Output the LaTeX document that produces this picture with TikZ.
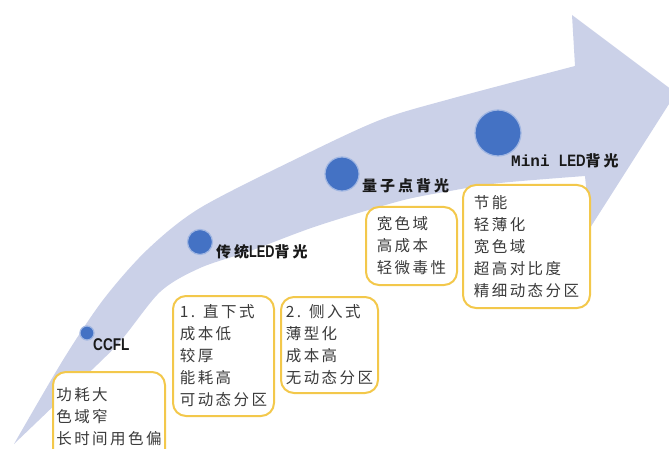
\documentclass[tikz,border=0pt]{standalone}
\usepackage{fontspec}
\setmainfont{Liberation Sans}
\newfontfamily\cjk[LetterSpace=16]{Noto Sans CJK SC}
\newfontfamily\cjklab[LetterSpace=20]{Noto Sans CJK SC}
\newfontfamily\monob{Liberation Mono}
\newfontfamily\narrowb[FakeStretch=0.8]{Liberation Sans}
\newfontfamily\narrowerb[FakeStretch=0.75]{Liberation Sans}
\definecolor{bandc}{RGB}{203,209,232}
\definecolor{dotc}{RGB}{68,114,196}
\definecolor{dotedge}{RGB}{160,182,226}
\definecolor{boxc}{RGB}{243,200,75}
\definecolor{txtc}{RGB}{58,58,58}
\definecolor{labc}{RGB}{25,25,25}
\begin{document}
\begin{tikzpicture}[x=1pt,y=-1pt,
  dot/.style={circle, fill=dotc, draw=dotedge, line width=1.2pt, inner sep=0pt},
  infobox/.style={draw=boxc, line width=2pt, rounded corners=13pt, fill=white,
    align=left, inner sep=0pt, text=txtc,
    font=\cjk\fontsize{15.5}{22}\selectfont},
  lab/.style={anchor=west, inner sep=0pt, text=labc},
  cjklabfont/.style={font=\cjklab\bfseries\fontsize{15}{15}\selectfont}
]
\useasboundingbox (0,0) rectangle (669,449);
\begin{scope}
\clip (0,0) rectangle (669,449);
\fill[bandc]
  plot[smooth] coordinates {(14,444) (63,360) (103,300) (147,250) (200,208) (300,157) (380,120) (450,99) (575,66)}
  -- (572,15) -- (676,93) -- (590,228) -- (585,176)
  -- plot[smooth] coordinates {(585,176) (500,183) (450,191) (400,201) (317,226) (250,251) (200,268) (160,292) (117,345) (62,398) (14,444)}
  -- cycle;
\end{scope}

% dots
\node[dot, minimum size=14pt] (d1) at (87,333) {};
\node[dot, minimum size=25pt] (d2) at (200,242) {};
\node[dot, minimum size=34pt] (d3) at (342,174) {};
\node[dot, minimum size=46pt] (d4) at (498,133) {};

% labels
\node[lab, font=\narrowb\bfseries\fontsize{17}{17}\selectfont] (l1) at (93,345) {CCFL};
\node[lab] (l2) at (216,252) {\cjklab\bfseries\fontsize{15}{15}\selectfont 传统\narrowerb\bfseries\fontsize{17}{17}\selectfont LED\cjklab\bfseries\fontsize{15}{15}\selectfont 背光};
\node[lab, cjklabfont] (l3) at (362,186) {量子点背光};
\node[lab] (l4) at (511,161) {\monob\bfseries\fontsize{16}{16}\selectfont Mini \narrowb\bfseries\fontsize{16.5}{16.5}\selectfont LED\cjklab\bfseries\fontsize{15}{15}\selectfont 背光};

% boxes
\begin{scope}
\clip (0,0) rectangle (669,449);
\node[infobox, minimum width=112pt, minimum height=90pt] (b1) at (109,417) {功耗大\\色域窄\\长时间用色偏};
\end{scope}
\node[infobox, minimum width=101pt, minimum height=120pt] (b2) at (223.5,356) {1. 直下式\\成本低\\较厚\\能耗高\\可动态分区};
\node[infobox, minimum width=97pt, minimum height=96pt] (b3) at (329.5,345) {2. 侧入式\\薄型化\\成本高\\无动态分区};
\node[infobox, minimum width=91pt, minimum height=78pt] (b4) at (411.5,246) {宽色域\\高成本\\轻微毒性};
\node[infobox, minimum width=127pt, minimum height=123pt] (b5) at (526.5,246.5) {节能\\轻薄化\\宽色域\\超高对比度\\精细动态分区};
\end{tikzpicture}
\end{document}
